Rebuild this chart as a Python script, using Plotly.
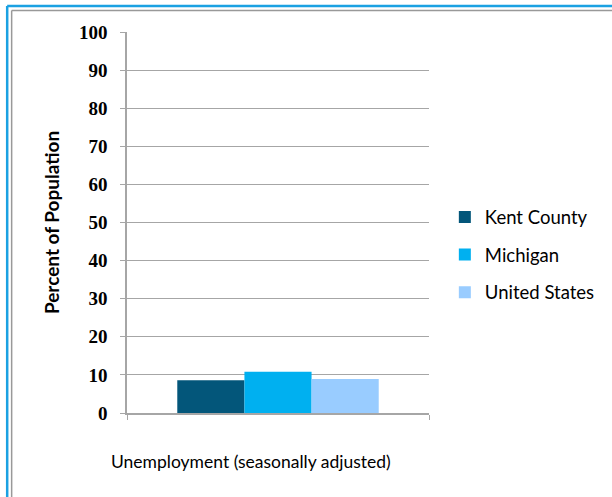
import plotly.graph_objects as go

# data
category = ["Unemployment (seasonally adjusted)"]
series_names = ["Kent County", "Michigan", "United States"]
kent = [8.6]
michigan = [10.8]
united_states = [8.9]
series_colors = ["#03567a", "#00b0f0", "#99ccff"]

W, H = 612, 497
L, R, T, B = 127, 180, 32, 84
pw, ph = W - L - R, H - T - B


def px_x(x):
    return (x - L) / pw


def px_y(y):
    return (H - B - y) / ph


fig = go.Figure()
for i, (name, vals) in enumerate(zip(series_names, [kent, michigan, united_states])):
    fig.add_trace(go.Bar(x=category, y=vals, name=name, legendgroup=name,
                         marker_color=series_colors[i], marker_line_width=0))

grey = "#a6a6a6"
fig.update_layout(
    width=W, height=H,
    margin=dict(l=L, r=R, t=T, b=B),
    paper_bgcolor="white", plot_bgcolor="white",
    barmode="group", bargap=0.333, bargroupgap=0,
    showlegend=True,
    legend=dict(x=px_x(448), y=px_y(255), xanchor="left", yanchor="middle",
                font=dict(family="Lato", size=18.5, color="black"),
                tracegroupgap=10.5, itemwidth=30, traceorder="grouped",
                bgcolor="rgba(0,0,0,0)"),
    xaxis=dict(showticklabels=False, ticks="outside", tickson="boundaries",
               ticklen=5, tickcolor=grey, showline=True, linecolor=grey,
               linewidth=1.5, showgrid=False),
    yaxis=dict(range=[0, 100], dtick=10, showgrid=True, gridcolor=grey, gridwidth=1,
               showline=True, linecolor=grey, linewidth=1.5, ticks="outside",
               ticklen=5, tickcolor=grey, zeroline=False,
               ticklabelstandoff=9,
               tickfont=dict(family="Liberation Serif", size=19, color="black", weight="bold"),
               title=dict(text="Percent of Population", standoff=14,
                          font=dict(family="Lato", size=19, color="black", weight="bold"))),
)

fig.add_annotation(text="Unemployment (seasonally adjusted)", xref="paper", yref="paper",
                   x=px_x(252), y=px_y(461), xanchor="center", yanchor="middle",
                   showarrow=False, font=dict(family="Lato", size=17.5, color="black"))

# chart frame (blue outer, grey inner)
fig.add_shape(type="line", xref="paper", yref="paper", x0=px_x(6), x1=px_x(6),
              y0=px_y(6), y1=px_y(H + 5), line=dict(color="#1ba1e2", width=2.5))
fig.add_shape(type="line", xref="paper", yref="paper", x0=px_x(6), x1=px_x(W + 5),
              y0=px_y(6), y1=px_y(6), line=dict(color="#1ba1e2", width=2.5))
fig.add_shape(type="line", xref="paper", yref="paper", x0=px_x(10.5), x1=px_x(10.5),
              y0=px_y(10.5), y1=px_y(H + 5), line=dict(color="#999999", width=1.5))
fig.add_shape(type="line", xref="paper", yref="paper", x0=px_x(10.5), x1=px_x(W + 5),
              y0=px_y(10.5), y1=px_y(10.5), line=dict(color="#999999", width=1.5))

# the page's default body margin would push the figure 8px off the window corner
fig.write_html("out.html", config={"displayModeBar": False},
               post_script="document.body.style.margin='0';")
